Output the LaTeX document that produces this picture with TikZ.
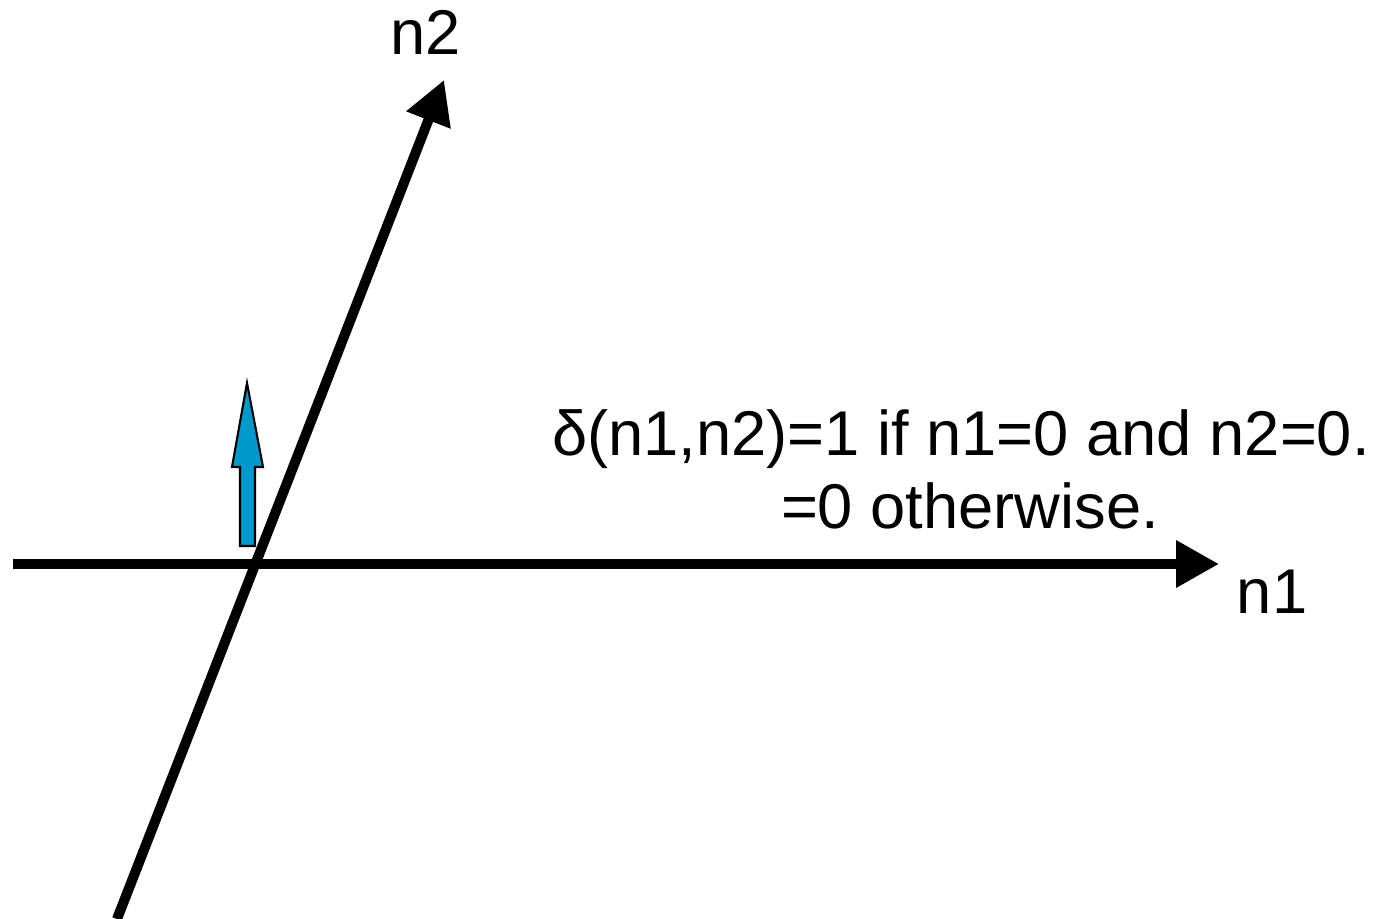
\documentclass[tikz,border=0pt]{standalone}
\usepackage{fontspec}
\setmainfont{Liberation Sans}
\usepackage{tikz}
\usetikzlibrary{arrows.meta}
\definecolor{deltablue}{RGB}{0,153,204}

\begin{document}
\begin{tikzpicture}[x=0.02cm,y=-0.02cm,
  axis/.style={line width=0.2cm,-{Triangle[length=0.86cm,width=0.9cm]}},
  lbl/.style={font=\fontsize{36}{42}\selectfont,inner sep=0pt,anchor=base},
  impulse/.style={draw=black,line width=1.2pt,fill=deltablue}]
\useasboundingbox (0,0) rectangle (1389,919);
% axes
\coordinate (org) at (255,564);
\coordinate (n1s) at (13,564);
\coordinate (n1e) at (1219,564);
\coordinate (n2s) at (117,919);
\coordinate (n2e) at (444,80);
\draw[axis] (n1s) -- (n1e);
\draw[axis] (n2s) -- (n2e);
\node[lbl] (n1lab) at (1272,613) {n1};
\node[lbl] (n2lab) at (426,55) {n2};
% unit impulse at the origin
\draw[impulse] (240,546) -- (240,467) -- (232,467) -- (247,383)
  -- (263,467) -- (255,467) -- (255,546) -- cycle;
\node[lbl] (def1) at (961,455) {δ(n1,n2)=1 if n1=0 and n2=0.};
\node[lbl] (def2) at (970,528) {=0 otherwise.};
\end{tikzpicture}
\end{document}
